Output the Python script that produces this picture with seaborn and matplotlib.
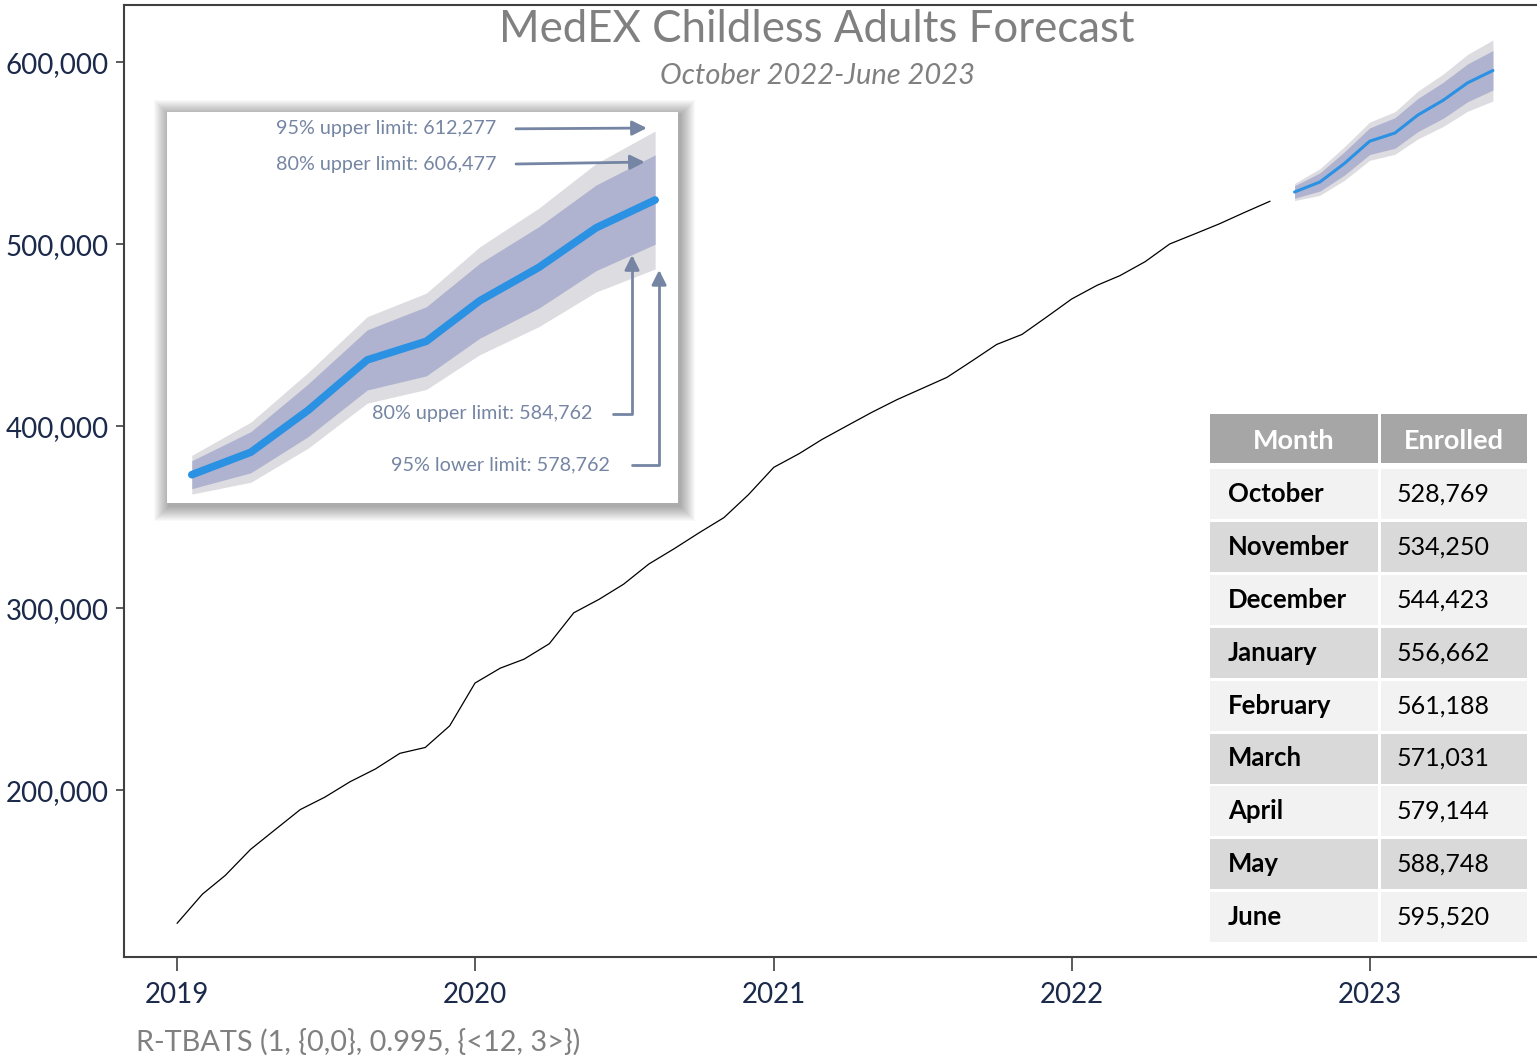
import pandas as pd
import numpy as np
import matplotlib
matplotlib.use('Agg')
import matplotlib.pyplot as plt
import matplotlib.dates as mdates
import matplotlib.ticker as mticker
from matplotlib.patches import Rectangle
import seaborn as sns

# data: monthly enrollment, Jan 2019 - Sep 2022
hist_start = '2019-01-01'
hist_values = [127000, 143000, 153300, 167600, 178400, 189500, 196300, 204800,
               211800, 220400, 223600, 235500, 259000, 267200, 272100, 280600,
               297600, 305000, 313300, 324400, 332800, 341400, 349900, 362500,
               377500, 385000, 392800, 400400, 407700, 414700, 420700, 426900,
               436000, 445000, 450500, 460000, 470000, 477500, 482800, 490500,
               500200, 505800, 511300, 517600, 523700]

# forecast Oct 2022 - Jun 2023
fc_months = ['October', 'November', 'December', 'January', 'February',
             'March', 'April', 'May', 'June']
fc_mean = [528769, 534250, 544423, 556662, 561188, 571031, 579144, 588748, 595520]
fc_lo95 = [524070, 526950, 535220, 546160, 549490, 557930, 564740, 573150, 578762]
fc_lo80 = [525370, 529250, 538020, 549360, 552790, 561930, 569240, 578350, 584762]
fc_hi80 = [532170, 539250, 550820, 563960, 569590, 580130, 589040, 599150, 606477]
fc_hi95 = [533470, 541550, 553620, 567160, 572890, 584130, 593540, 604350, 612277]

hist = pd.DataFrame({'date': pd.date_range(hist_start, periods=len(hist_values), freq='MS'),
                     'enrolled': hist_values})
fc = pd.DataFrame({'date': pd.date_range('2022-10-01', periods=len(fc_mean), freq='MS'),
                   'mean': fc_mean, 'lo95': fc_lo95, 'lo80': fc_lo80,
                   'hi80': fc_hi80, 'hi95': fc_hi95})

sns.set_style('white')
plt.rcParams['font.family'] = ['Lato', 'DejaVu Sans']

W, H = 1537, 1058
fig = plt.figure(figsize=(W / 100, H / 100), dpi=100)


def fx(px):
    return px / W


def fy(py):
    return 1 - py / H


navy = '#1b2a4a'
grey_txt = '#808080'
c95 = '#dcdce1'
c80 = '#b0b3cf'
blue = '#2a91e3'
note = '#7585a3'

# main axes
ax = fig.add_axes([fx(124), fy(957), 1 - fx(124), fy(5) - fy(957)])
ax.fill_between(fc['date'], fc['lo95'], fc['hi95'], color=c95, lw=0)
ax.fill_between(fc['date'], fc['lo80'], fc['hi80'], color=c80, lw=0)
sns.lineplot(data=hist, x='date', y='enrolled', ax=ax, color='black', lw=0.9)
sns.lineplot(data=fc, x='date', y='mean', ax=ax, color=blue, lw=2.2)

ax.set_xlim(pd.Timestamp('2018-10-28'), pd.Timestamp('2023-07-25'))
ax.set_ylim(108500, 631500)
ax.set_xlabel('')
ax.set_ylabel('')
ax.yaxis.set_major_formatter(mticker.FuncFormatter(lambda v, p: f'{v:,.0f}'))
ax.set_yticks([200000, 300000, 400000, 500000, 600000])
ax.xaxis.set_major_locator(mdates.YearLocator())
ax.xaxis.set_major_formatter(mdates.DateFormatter('%Y'))
ax.tick_params(axis='y', length=6, width=1.2, color='#404040', pad=5,
               labelsize=20, labelcolor=navy, left=True)
ax.tick_params(axis='x', length=10, width=1.2, color='#404040', pad=8,
               labelsize=20, labelcolor=navy, bottom=True)
for s in ['left', 'bottom', 'top']:
    ax.spines[s].set_color('#404040')
    ax.spines[s].set_linewidth(1.5)
ax.spines['right'].set_visible(False)

# titles
fig.text(fx(817), fy(29), 'MedEX Childless Adults Forecast', ha='center', va='center',
         fontsize=31.5, color=grey_txt)
fig.text(fx(817), fy(76), 'October 2022-June 2023', ha='center', va='center',
         fontsize=21, color=grey_txt, style='italic')
fig.text(fx(136), fy(1042), 'R-TBATS (1, {0,0}, 0.995, {<12, 3>})', ha='left', va='center',
         fontsize=20.8, color=grey_txt)

# inset shadow (soft glow)
ix0, iy0, ix1, iy1 = 167, 112, 678, 503
for k in range(15, 0, -1):
    fig.patches.append(Rectangle((fx(ix0 - k + 2), fy(iy1 + k + 3)),
                                 fx(ix1 - ix0 + 2 * k), (iy1 - iy0 + 2 * k) / H,
                                 transform=fig.transFigure, facecolor='#000000',
                                 alpha=0.022, lw=0, zorder=1))

# inset: zoom on forecast
ins = fig.add_axes([fx(ix0), fy(iy1), fx(ix1 - ix0), (iy1 - iy0) / H], zorder=5)
ins.fill_between(fc['date'], fc['lo95'], fc['hi95'], color=c95, lw=0)
ins.fill_between(fc['date'], fc['lo80'], fc['hi80'], color=c80, lw=0)
sns.lineplot(data=fc, x='date', y='mean', ax=ins, color=blue, lw=5.5)
ins.set_xlim(pd.Timestamp('2022-09-18'), pd.Timestamp('2023-06-13'))
ins.set_ylim(521900, 616900)
ins.set_xticks([])
ins.set_yticks([])
ins.set_xlabel('')
ins.set_ylabel('')
ins.set_facecolor('white')
for s in ins.spines.values():
    s.set_visible(False)

ap = dict(arrowstyle='-|>', color=note, lw=2, mutation_scale=22, shrinkA=0, shrinkB=0)
notes = [
    ('95% upper limit: 612,277', (0.644, 0.957), (0.683, 0.957), (0.939, 0.959), 'arc3'),
    ('80% upper limit: 606,477', (0.644, 0.867), (0.683, 0.867), (0.935, 0.872), 'arc3'),
    ('80% upper limit: 584,762', (0.832, 0.228), (0.873, 0.228), (0.910, 0.634),
     'angle,angleA=0,angleB=90,rad=0'),
    ('95% lower limit: 578,762', (0.867, 0.097), (0.910, 0.097), (0.963, 0.596),
     'angle,angleA=0,angleB=90,rad=0'),
]
for label, tpos, start, tip, cs in notes:
    ins.text(tpos[0], tpos[1], label, transform=ins.transAxes, ha='right', va='center',
             fontsize=14.2, color=note)
    ins.annotate('', xy=tip, xytext=start, xycoords='axes fraction',
                 textcoords='axes fraction',
                 arrowprops=dict(ap, connectionstyle=cs))

# forecast table
cx0, cx1, cx2, cx3 = 1210, 1378, 1381, 1527
fig.patches.append(Rectangle((fx(cx0), fy(463)), fx(cx1 - cx0), 49 / H,
                             transform=fig.transFigure, facecolor='#a6a6a6', lw=0, zorder=6))
fig.patches.append(Rectangle((fx(cx2), fy(463)), fx(cx3 - cx2), 49 / H,
                             transform=fig.transFigure, facecolor='#a6a6a6', lw=0, zorder=6))
fig.text(fx((cx0 + cx1) / 2), fy(441), 'Month', ha='center', va='center', fontsize=19.5,
         color='white', weight='bold', zorder=7)
fig.text(fx((cx2 + cx3) / 2), fy(441), 'Enrolled', ha='center', va='center', fontsize=19.5,
         color='white', weight='bold', zorder=7)
for i, (m, v) in enumerate(zip(fc_months, fc_mean)):
    yc = 494 + 52.9 * i
    col = '#f2f2f2' if i % 2 == 0 else '#d9d9d9'
    for a, b in [(cx0, cx1), (cx2, cx3)]:
        fig.patches.append(Rectangle((fx(a), fy(yc + 25)), fx(b - a), 50 / H,
                                     transform=fig.transFigure, facecolor=col, lw=0, zorder=6))
    fig.text(fx(1228), fy(yc), m, ha='left', va='center', fontsize=18.5, weight='bold',
             color='black', zorder=7)
    fig.text(fx(1443), fy(yc), f'{v:,}', ha='center', va='center', fontsize=18,
             color='black', zorder=7)

fig.savefig('out.png', dpi=100)
